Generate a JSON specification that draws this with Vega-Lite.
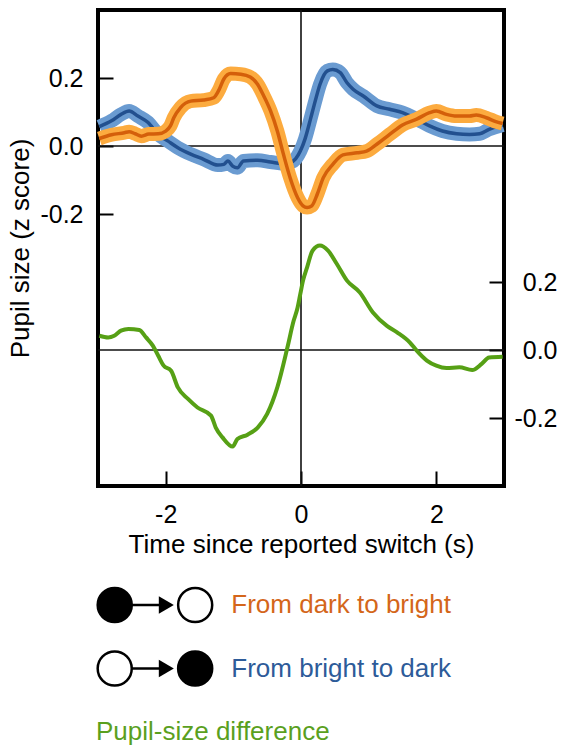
{
  "$schema": "https://vega.github.io/schema/vega-lite/v6.json",
  "padding": {"left": 5, "top": 7, "right": 0, "bottom": 0},
  "config": {
    "font": "Liberation Sans",
    "locale": {"number": {"decimal": ".", "thousands": ",", "grouping": [3], "currency": ["$", ""], "minus": "-"}},
    "view": {"stroke": "black", "strokeWidth": 4},
    "axis": {"grid": false, "domain": false, "ticks": true, "tickSize": -15, "tickWidth": 2, "tickColor": "black",
             "labelFontSize": 25, "labelColor": "black", "titleFontSize": 26, "titleFontWeight": "normal", "titleColor": "black", "labelPadding": 30}
  },
  "datasets": {
    "orange": [
      {"t": -2.98, "v": 0.022}, {"t": -2.80, "v": 0.033}, {"t": -2.61, "v": 0.039}, {"t": -2.54, "v": 0.042}, {"t": -2.45, "v": 0.036},
      {"t": -2.36, "v": 0.029}, {"t": -2.25, "v": 0.035}, {"t": -2.11, "v": 0.036}, {"t": -2.0, "v": 0.044}, {"t": -1.93, "v": 0.059},
      {"t": -1.88, "v": 0.083}, {"t": -1.78, "v": 0.113}, {"t": -1.63, "v": 0.132}, {"t": -1.44, "v": 0.135}, {"t": -1.29, "v": 0.142},
      {"t": -1.22, "v": 0.162}, {"t": -1.14, "v": 0.197}, {"t": -1.04, "v": 0.213}, {"t": -0.89, "v": 0.211}, {"t": -0.75, "v": 0.203},
      {"t": -0.64, "v": 0.181}, {"t": -0.55, "v": 0.147}, {"t": -0.45, "v": 0.103}, {"t": -0.35, "v": 0.044}, {"t": -0.26, "v": -0.024},
      {"t": -0.16, "v": -0.094}, {"t": -0.05, "v": -0.152}, {"t": 0.03, "v": -0.176}, {"t": 0.09, "v": -0.181}, {"t": 0.16, "v": -0.176},
      {"t": 0.24, "v": -0.142}, {"t": 0.33, "v": -0.093}, {"t": 0.47, "v": -0.054}, {"t": 0.62, "v": -0.026}, {"t": 0.83, "v": -0.02},
      {"t": 0.97, "v": -0.015}, {"t": 1.12, "v": 0.005}, {"t": 1.31, "v": 0.034}, {"t": 1.50, "v": 0.062}, {"t": 1.71, "v": 0.079},
      {"t": 1.90, "v": 0.098}, {"t": 2.00, "v": 0.103}, {"t": 2.15, "v": 0.093}, {"t": 2.30, "v": 0.088}, {"t": 2.49, "v": 0.088},
      {"t": 2.59, "v": 0.091}, {"t": 2.74, "v": 0.083}, {"t": 2.89, "v": 0.071}, {"t": 2.98, "v": 0.066}
    ],
    "blue": [
      {"t": -2.98, "v": 0.057}, {"t": -2.80, "v": 0.074}, {"t": -2.66, "v": 0.093}, {"t": -2.54, "v": 0.103}, {"t": -2.41, "v": 0.088},
      {"t": -2.26, "v": 0.069}, {"t": -2.11, "v": 0.034}, {"t": -1.97, "v": 0.015}, {"t": -1.82, "v": -0.005}, {"t": -1.63, "v": -0.024},
      {"t": -1.44, "v": -0.039}, {"t": -1.23, "v": -0.056}, {"t": -1.14, "v": -0.054}, {"t": -1.08, "v": -0.044}, {"t": -1.01, "v": -0.059},
      {"t": -0.94, "v": -0.064}, {"t": -0.85, "v": -0.044}, {"t": -0.64, "v": -0.042}, {"t": -0.45, "v": -0.047}, {"t": -0.26, "v": -0.052},
      {"t": -0.16, "v": -0.049}, {"t": -0.08, "v": -0.038}, {"t": -0.01, "v": -0.015}, {"t": 0.06, "v": 0.021}, {"t": 0.14, "v": 0.079},
      {"t": 0.21, "v": 0.132}, {"t": 0.28, "v": 0.181}, {"t": 0.39, "v": 0.221}, {"t": 0.47, "v": 0.225}, {"t": 0.58, "v": 0.216},
      {"t": 0.68, "v": 0.186}, {"t": 0.77, "v": 0.167}, {"t": 0.92, "v": 0.147}, {"t": 1.12, "v": 0.118}, {"t": 1.31, "v": 0.108},
      {"t": 1.50, "v": 0.098}, {"t": 1.71, "v": 0.079}, {"t": 1.90, "v": 0.059}, {"t": 2.09, "v": 0.044}, {"t": 2.30, "v": 0.036},
      {"t": 2.49, "v": 0.034}, {"t": 2.64, "v": 0.036}, {"t": 2.78, "v": 0.049}, {"t": 2.98, "v": 0.062}
    ],
    "green": [
      {"t": -2.98, "v": 0.042}, {"t": -2.85, "v": 0.037}, {"t": -2.76, "v": 0.042}, {"t": -2.66, "v": 0.057}, {"t": -2.55, "v": 0.062},
      {"t": -2.39, "v": 0.059}, {"t": -2.29, "v": 0.037}, {"t": -2.19, "v": 0.013}, {"t": -2.11, "v": -0.017}, {"t": -2.03, "v": -0.046},
      {"t": -1.92, "v": -0.061}, {"t": -1.82, "v": -0.11}, {"t": -1.67, "v": -0.144}, {"t": -1.53, "v": -0.169}, {"t": -1.33, "v": -0.193},
      {"t": -1.26, "v": -0.228}, {"t": -1.16, "v": -0.257}, {"t": -1.01, "v": -0.284}, {"t": -0.94, "v": -0.262}, {"t": -0.79, "v": -0.249},
      {"t": -0.64, "v": -0.228}, {"t": -0.50, "v": -0.188}, {"t": -0.35, "v": -0.11}, {"t": -0.20, "v": 0.008}, {"t": -0.11, "v": 0.085},
      {"t": -0.05, "v": 0.125}, {"t": -0.01, "v": 0.165}, {"t": 0.03, "v": 0.204}, {"t": 0.09, "v": 0.243}, {"t": 0.17, "v": 0.292},
      {"t": 0.28, "v": 0.307}, {"t": 0.40, "v": 0.292}, {"t": 0.53, "v": 0.253}, {"t": 0.68, "v": 0.204}, {"t": 0.87, "v": 0.169},
      {"t": 1.06, "v": 0.111}, {"t": 1.27, "v": 0.071}, {"t": 1.42, "v": 0.052}, {"t": 1.61, "v": 0.022}, {"t": 1.71, "v": -0.002},
      {"t": 1.86, "v": -0.031}, {"t": 2.00, "v": -0.046}, {"t": 2.15, "v": -0.053}, {"t": 2.34, "v": -0.051}, {"t": 2.53, "v": -0.059},
      {"t": 2.67, "v": -0.041}, {"t": 2.78, "v": -0.022}, {"t": 2.98, "v": -0.02}
    ],
    "legend": [
      {"series": "From dark to bright", "from": "dark", "to": "bright"},
      {"series": "From bright to dark", "from": "bright", "to": "dark"},
      {"series": "Pupil-size difference"}
    ]
  },
  "bounds": "flush",
  "spacing": 119,
  "vconcat": [
    {
      "width": 406,
      "height": 476,
      "layer": [
        {
          "layer": [
            {"data": {"values": [{}]}, "mark": {"type": "rule", "color": "#111", "strokeWidth": 1.6}, "encoding": {"y": {"datum": 0}}},
            {"data": {"values": [{}]}, "mark": {"type": "rule", "color": "#111", "strokeWidth": 1.6}, "encoding": {"x": {"datum": 0}}},
            {"data": {"name": "blue"}, "mark": {"type": "line", "color": "#6a9bd1", "strokeWidth": 14, "interpolate": "monotone", "strokeCap": "butt", "strokeJoin": "round"},
             "encoding": {
               "x": {"field": "t", "type": "quantitative", "scale": {"domain": [-3, 3], "nice": false, "zero": false},
                     "axis": {"values": [-2, 0, 2], "format": "d", "title": "Time since reported switch (s)", "labelPadding": 31, "titlePadding": 4}},
               "y": {"field": "v", "type": "quantitative", "scale": {"domain": [-1, 0.4], "nice": false, "zero": false},
                     "axis": {"values": [-0.2, 0, 0.2], "format": ".1f", "title": "Pupil size (z score)", "titlePadding": 6}}
             }},
            {"data": {"name": "blue"}, "mark": {"type": "line", "color": "#22508f", "strokeWidth": 3.5, "interpolate": "monotone"},
             "encoding": {"x": {"field": "t", "type": "quantitative"}, "y": {"field": "v", "type": "quantitative"}}},
            {"data": {"name": "orange"}, "mark": {"type": "line", "color": "#fcab3f", "strokeWidth": 14, "interpolate": "monotone", "strokeCap": "butt", "strokeJoin": "round"},
             "encoding": {"x": {"field": "t", "type": "quantitative"}, "y": {"field": "v", "type": "quantitative"}}},
            {"data": {"name": "orange"}, "mark": {"type": "line", "color": "#d45f0a", "strokeWidth": 3.5, "interpolate": "monotone"},
             "encoding": {"x": {"field": "t", "type": "quantitative"}, "y": {"field": "v", "type": "quantitative"}}}
          ]
        },
        {
          "layer": [
            {"data": {"values": [{}]}, "mark": {"type": "rule", "color": "#111", "strokeWidth": 1.6}, "encoding": {"y": {"datum": 0}}},
            {"data": {"name": "green"}, "mark": {"type": "line", "color": "#56a015", "strokeWidth": 4, "interpolate": "monotone"},
             "encoding": {
               "x": {"field": "t", "type": "quantitative"},
               "y": {"field": "v", "type": "quantitative", "scale": {"domain": [-0.4, 1.0], "nice": false, "zero": false},
                     "axis": {"orient": "right", "values": [-0.2, 0, 0.2], "format": ".1f", "title": null, "labelAlign": "right", "labelPadding": 68}}
             }}
          ]
        }
      ],
      "resolve": {"scale": {"y": "independent"}, "axis": {"y": "independent"}}
    },
    {
      "width": 406,
      "height": 127,
      "view": {"stroke": null},
      "data": {"name": "legend"},
      "encoding": {
        "y": {"field": "series", "type": "nominal", "axis": null,
              "scale": {"type": "point", "padding": 0, "domain": ["From dark to bright", "From bright to dark", "Pupil-size difference"]}}
      },
      "layer": [
        {"transform": [{"filter": "isValid(datum.from)"}],
         "mark": {"type": "rule", "color": "black", "strokeWidth": 2.5},
         "encoding": {"x": {"datum": -2.75, "type": "quantitative", "scale": {"domain": [-3, 3], "nice": false, "zero": false}, "axis": null}, "x2": {"datum": -1.95}}},
        {"transform": [{"filter": "isValid(datum.from)"}],
         "mark": {"type": "point", "shape": "triangle-right", "filled": true, "color": "black", "opacity": 1, "size": 300},
         "encoding": {"x": {"datum": -1.99, "type": "quantitative"}}},
        {"transform": [{"filter": "isValid(datum.from)"}],
         "mark": {"type": "point", "shape": "circle", "filled": true, "stroke": "black", "strokeWidth": 2.5, "opacity": 1, "size": 1160},
         "encoding": {"x": {"datum": -2.753, "type": "quantitative"},
                      "fill": {"field": "from", "type": "nominal", "legend": null, "scale": {"domain": ["dark", "bright"], "range": ["black", "white"]}}}},
        {"transform": [{"filter": "isValid(datum.from)"}],
         "mark": {"type": "point", "shape": "circle", "filled": true, "stroke": "black", "strokeWidth": 2.5, "opacity": 1, "size": 1160},
         "encoding": {"x": {"datum": -1.564, "type": "quantitative"},
                      "fill": {"field": "to", "type": "nominal", "legend": null, "scale": {"domain": ["dark", "bright"], "range": ["black", "white"]}}}},
        {"transform": [{"filter": "isValid(datum.from)"}],
         "mark": {"type": "text", "align": "left", "baseline": "middle", "fontSize": 26},
         "encoding": {"x": {"datum": -1.03, "type": "quantitative"}, "text": {"field": "series"},
                      "color": {"field": "series", "type": "nominal", "legend": null,
                                "scale": {"domain": ["From dark to bright", "From bright to dark", "Pupil-size difference"], "range": ["#d4661a", "#2d5b99", "#5aa01e"]}}}},
        {"transform": [{"filter": "!isValid(datum.from)"}],
         "mark": {"type": "text", "align": "left", "baseline": "middle", "fontSize": 26},
         "encoding": {"x": {"datum": -3.03, "type": "quantitative"}, "text": {"field": "series"},
                      "color": {"field": "series", "type": "nominal", "legend": null}}}
      ]
    }
  ]
}
